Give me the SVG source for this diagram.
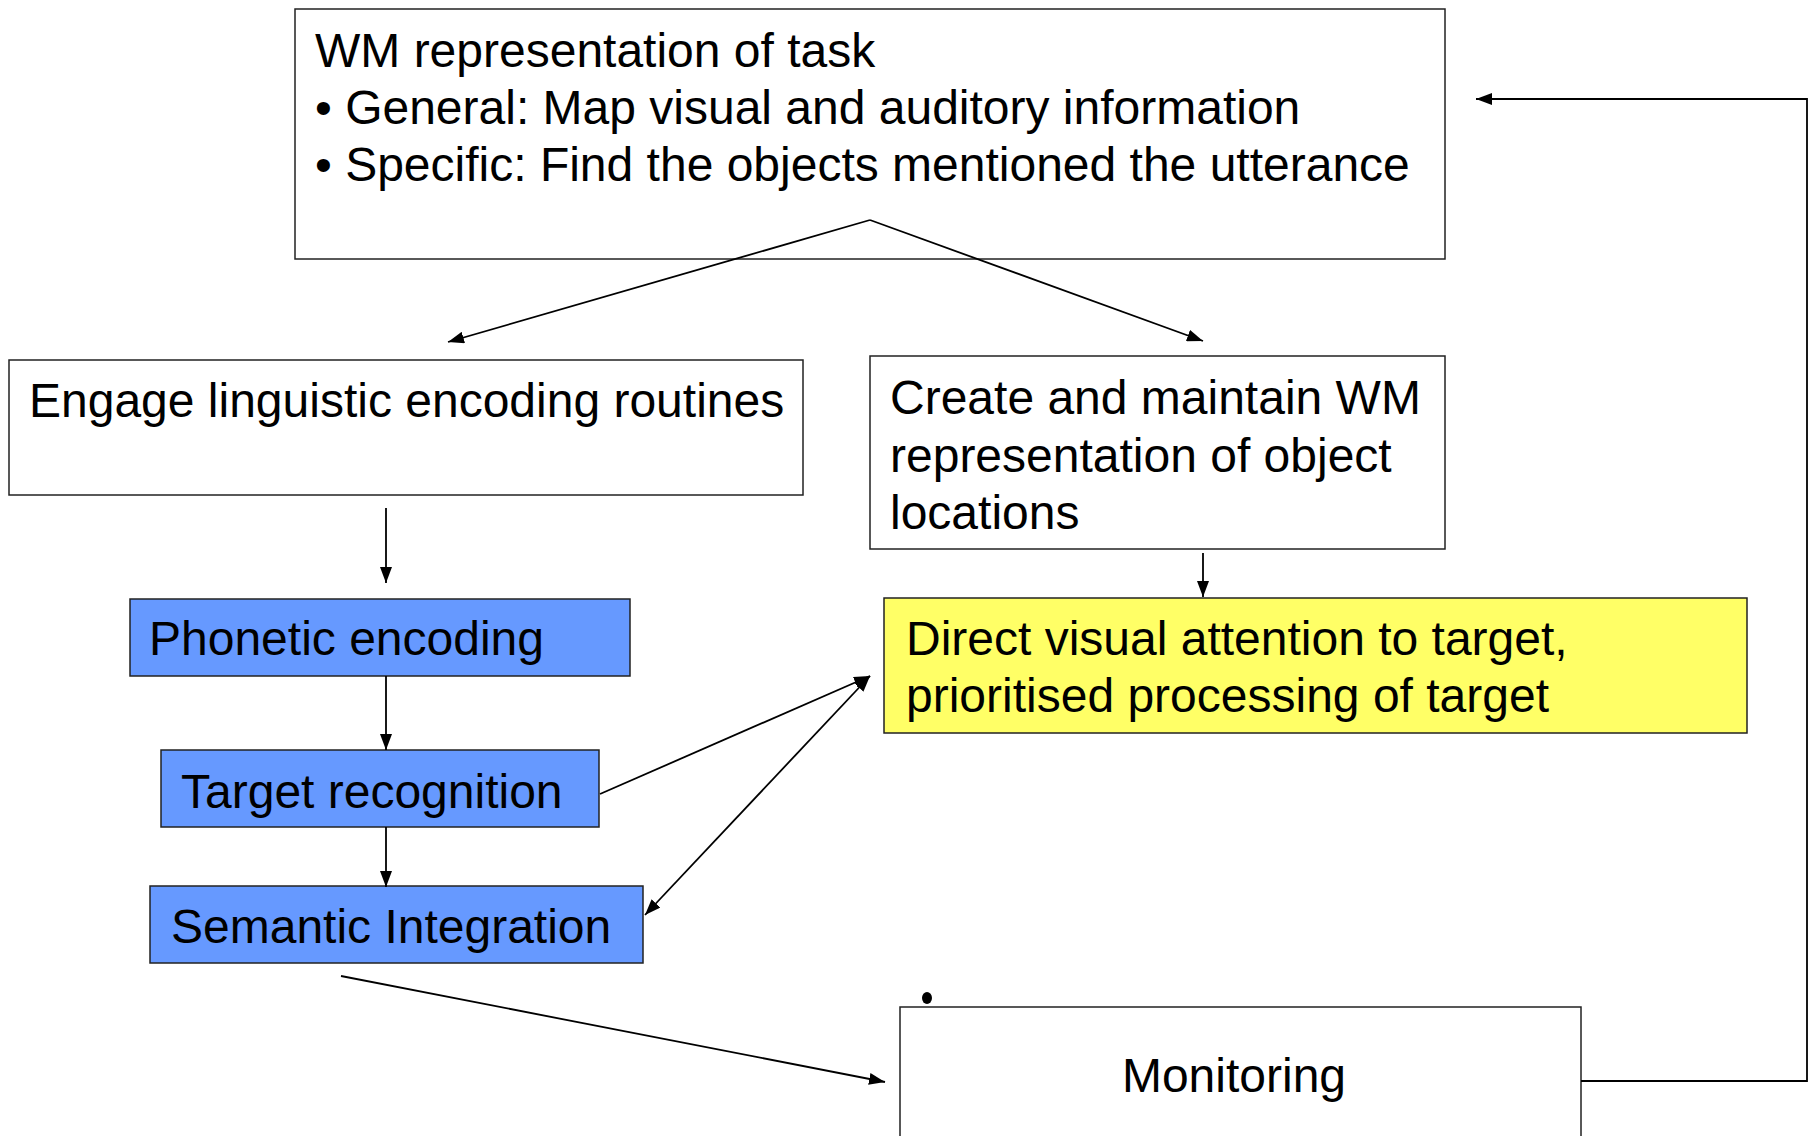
<svg xmlns="http://www.w3.org/2000/svg" width="1814" height="1136" viewBox="0 0 1814 1136">
<style>
.box{stroke:#222;stroke-width:1.5;fill:#fff}
.blue{fill:#6699ff}
.yellow{fill:#ffff66}
.t{font-family:"Liberation Sans",Arial,sans-serif;font-size:48px;fill:#000}
.c{stroke:#000;stroke-width:1.8;fill:none}
</style>
<defs>
<marker id="ah" markerWidth="16" markerHeight="12" refX="16" refY="6" orient="auto-start-reverse" markerUnits="userSpaceOnUse">
<path d="M0,0 L16,6 L0,12 Z" fill="#000"/>
</marker>
</defs>
<rect width="1814" height="1136" fill="#fff"/>
<g id="task">
<rect class="box" x="295" y="9" width="1150" height="250"/>
<text class="t" x="315" y="67">WM representation of task</text>
<text class="t" x="315" y="124">• General: Map visual and auditory information</text>
<text class="t" x="315" y="181">• Specific: Find the objects mentioned the utterance</text>
</g>
<g id="engage">
<rect class="box" x="9" y="360" width="794" height="135"/>
<text class="t" x="29" y="417">Engage linguistic encoding routines</text>
</g>
<g id="create">
<rect class="box" x="870" y="356" width="575" height="193"/>
<text class="t" x="890" y="414">Create and maintain WM</text>
<text class="t" x="890" y="472">representation of object</text>
<text class="t" x="890" y="529">locations</text>
</g>
<g id="phonetic">
<rect class="box blue" x="130" y="599" width="500" height="77"/>
<text class="t" x="149" y="655">Phonetic encoding</text>
</g>
<g id="target">
<rect class="box blue" x="161" y="750" width="438" height="77"/>
<text class="t" x="181" y="808">Target recognition</text>
</g>
<g id="semantic">
<rect class="box blue" x="150" y="886" width="493" height="77"/>
<text class="t" x="171" y="943">Semantic Integration</text>
</g>
<g id="attention">
<rect class="box yellow" x="884" y="598" width="863" height="135"/>
<text class="t" x="906" y="655">Direct visual attention to target,</text>
<text class="t" x="906" y="712">prioritised processing of target</text>
</g>
<g id="monitoring">
<rect class="box" x="900" y="1007" width="681" height="140"/>
<ellipse cx="927" cy="998" rx="5" ry="6" fill="#000"/>
<text class="t" x="1234" y="1092" text-anchor="middle">Monitoring</text>
</g>
<g id="connectors">
<path class="c" d="M870,220 L448,342" marker-end="url(#ah)"/>
<path class="c" d="M870,220 L1203,341" marker-end="url(#ah)"/>
<path class="c" d="M386,508 L386,583" marker-end="url(#ah)"/>
<path class="c" d="M386,676 L386,750" marker-end="url(#ah)"/>
<path class="c" d="M386,827 L386,887" marker-end="url(#ah)"/>
<path class="c" d="M1203,553 L1203,597" marker-end="url(#ah)"/>
<path class="c" d="M600,794 L870,676" marker-end="url(#ah)"/>
<path class="c" d="M870,676 L645,915" marker-start="url(#ah)" marker-end="url(#ah)"/>
<path class="c" d="M341,976 L885,1082" marker-end="url(#ah)"/>
<path class="c" d="M1581,1081 L1807,1081 L1807,99 L1476,99" marker-end="url(#ah)"/>
</g>
</svg>
